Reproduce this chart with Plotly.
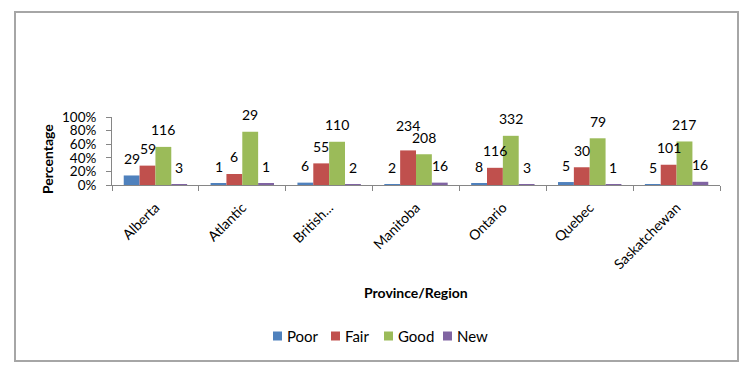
import plotly.graph_objects as go

regions = ["Alberta", "Atlantic", "British...", "Manitoba", "Ontario", "Quebec", "Saskatchewan"]
poor = [29, 1, 6, 2, 8, 5, 5]
fair = [59, 6, 55, 234, 116, 30, 101]
good = [116, 29, 110, 208, 332, 79, 217]
new = [3, 1, 2, 16, 3, 1, 16]
series_names = ["Poor", "Fair", "Good", "New"]
colors = ["#4F81BD", "#C0504D", "#9BBB59", "#8064A2"]
y_ticks = [0, 20, 40, 60, 80, 100]
y_ticklabels = ["0%", "20%", "40%", "60%", "80%", "100%"]

series = [poor, fair, good, new]
totals = [sum(v) for v in zip(*series)]
pcts = [[c / t * 100 for c, t in zip(s, totals)] for s in series]

FONT = "Lato, sans-serif"
W, H = 750, 376
L, R, T, B = 112, 30, 117, 191
plot_w = W - L - R
plot_h = H - T - B
bargap = 0.27
cat_w = plot_w / len(regions)
bw = cat_w * (1 - bargap) / 4


def px_x(px):
    return (px - L) / plot_w


def px_y(py):
    return (H - B - py) / plot_h


fig = go.Figure()
for name, col, p in zip(series_names, colors, pcts):
    fig.add_trace(go.Bar(x=regions, y=p, name=name, marker_color=col,
                         marker_line_width=0, showlegend=False))

annotations = []
for i, (s, p) in enumerate(zip(series, pcts)):
    for j, (c, v) in enumerate(zip(s, p)):
        extra = 8 if (i == 1 and regions[j] == "Manitoba") else 0
        annotations.append(dict(x=regions[j], y=v, xref="x", yref="y", text=str(c),
                                showarrow=False, xshift=(i - 1.5) * bw,
                                yshift=17 + extra, yanchor="middle",
                                font=dict(family=FONT, size=14, color="#000000")))

annotations.append(dict(text="<b>Percentage</b>", xref="paper", yref="paper",
                        x=px_x(47), y=px_y(159),
                        textangle=-90, showarrow=False, xanchor="center", yanchor="middle",
                        font=dict(family=FONT, size=14, color="#000000")))
annotations.append(dict(text="<b>Province/Region</b>", xref="paper", yref="paper",
                        x=px_x(416), y=px_y(292),
                        showarrow=False, xanchor="center", yanchor="middle",
                        font=dict(family=FONT, size=14, color="#000000")))

shapes = [dict(type="rect", xref="paper", yref="paper",
               x0=px_x(15), x1=px_x(738), y0=px_y(361), y1=px_y(12),
               line=dict(color="#A6A6A6", width=2), fillcolor="rgba(0,0,0,0)", layer="below")]

# manual compact legend (Excel style)
legend_sq_x = [273, 331, 384, 443]
legend_y = 336
for name, col, sx in zip(series_names, colors, legend_sq_x):
    shapes.append(dict(type="rect", xref="paper", yref="paper",
                       x0=px_x(sx), x1=px_x(sx + 9), y0=px_y(legend_y + 4.5), y1=px_y(legend_y - 4.5),
                       line=dict(width=0), fillcolor=col))
    annotations.append(dict(text=name, xref="paper", yref="paper",
                            x=px_x(sx + 12), y=px_y(legend_y), xanchor="left", yanchor="middle",
                            showarrow=False, font=dict(family=FONT, size=15, color="#000000")))

fig.update_layout(
    width=W, height=H,
    margin=dict(l=L, r=R, t=T, b=B, autoexpand=False),
    barmode="group", bargap=bargap, bargroupgap=0,
    paper_bgcolor="white", plot_bgcolor="white",
    font=dict(family=FONT, size=14, color="#000000"),
    showlegend=False,
    annotations=annotations,
    shapes=shapes,
)
fig.update_xaxes(showline=True, linecolor="#868686", linewidth=1, ticks="outside",
                 tickson="boundaries", ticklen=5, tickcolor="#868686", tickangle=-45,
                 showgrid=False, tickfont=dict(family=FONT, size=14), ticklabelstandoff=8)
fig.update_yaxes(range=[0, 100], tickvals=y_ticks, ticktext=y_ticklabels,
                 showline=True, linecolor="#868686", linewidth=1, ticks="outside",
                 ticklen=5, tickcolor="#868686", showgrid=False, zeroline=False,
                 tickfont=dict(family=FONT, size=13.5), ticklabelstandoff=7)

fig.write_html("out.html", config={"displayModeBar": False},
               post_script="document.body.style.margin='0';")
